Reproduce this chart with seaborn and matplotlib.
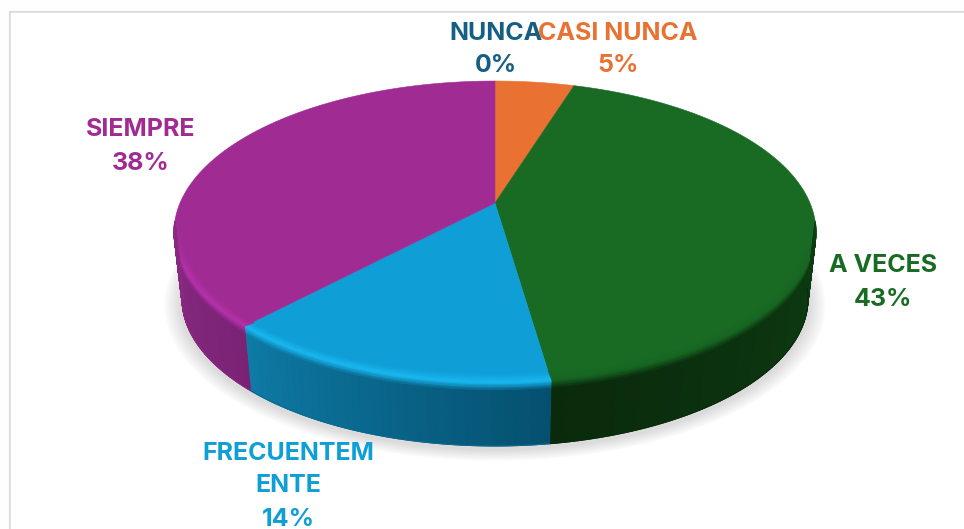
"""
3D style pie chart, frequency of answers
"""

import numpy as np
import matplotlib
matplotlib.use("Agg")
import matplotlib.pyplot as plt
from matplotlib.colors import to_rgb
import seaborn as sns

categories = ['NUNCA', 'CASI NUNCA', 'A VECES', 'FRECUENTEMENTE', 'SIEMPRE']
values = [0.0, 4.8, 42.9, 14.3, 38.0]
slice_colors = ['#156082', '#E97132', '#196B24', '#0F9ED5', '#A02B93']

# label layout: wrapped text and centre of first line in pixels
label_lines = [['NUNCA'], ['CASI NUNCA'], ['A VECES'], ['FRECUENTEM', 'ENTE'], ['SIEMPRE']]
label_x = [496, 618, 883, 288, 141]
label_y = [33, 33, 266, 453, 130]

# side colours (start of slice, end of slice) and rim highlight
side_from = ['#156082', '#E97132', '#0d3d12', '#05506f', '#7a2375']
side_to = ['#156082', '#E97132', '#0a2a0c', '#0e7ba6', '#8a2a83']
rim_color = ['#156082', '#E97132', '#176522', '#1ab8f2', '#b632ad']

sns.set_theme(style="white")
plt.rcParams['font.family'] = ['Inter', 'DejaVu Sans']

# projection of the pie disc to pixels
CX, CY = 495.0, 203.0
A, B, K = 315.0, 145.4, 0.192
SCALE_BOTTOM, DROP = 0.975, 67.5
VIS_START, VIS_END = 97.0, 263.0


def top_point(theta):
    th = np.radians(theta)
    u, v = np.sin(th), np.cos(th)
    w = 1 + K * v
    return CX + A * u / w, CY - B * v / w


def bottom_point(x, y):
    return CX + SCALE_BOTTOM * (x - CX), CY + DROP + SCALE_BOTTOM * (y - CY)


fig = plt.figure(figsize=(9.64, 5.29), dpi=100)
fig.patch.set_facecolor('#fefefe')
ax = fig.add_axes([0, 0, 1, 1])
ax.set_xlim(0, 964)
ax.set_ylim(529, 0)
ax.axis('off')

# chart frame, only top and left fall inside the crop
ax.plot([9.5, 9.5, 964], [529, 12, 12], color='#dcdcdc', lw=1.6, zorder=1)
ax.fill([10.5, 964, 964, 10.5], [13, 13, 529, 529], color='white', zorder=1)

# soft shadow under the pie
t_all = np.linspace(0, 360, 361)
sx, sy = top_point(t_all)
bx, by = bottom_point(sx, sy)
for grow in np.arange(18, 0, -2):
    f = 1 + grow / 321
    ax.fill(CX + f * (bx - CX), CY + 35 + f * (by - CY - 35) + 3, color='#8c8c8c',
            alpha=0.035, lw=0, zorder=2)

# cumulative angles clockwise from the top
ends = np.cumsum(values) / np.sum(values) * 360
starts = np.concatenate([[0], ends[:-1]])

# top faces
for i, (a0, a1) in enumerate(zip(starts, ends)):
    if a1 <= a0:
        continue
    th = np.linspace(a0, a1, 200)
    x, y = top_point(th)
    ax.fill(np.r_[CX, x], np.r_[CY, y], facecolor=slice_colors[i], edgecolor=slice_colors[i],
            lw=0.4, zorder=3)

# rim and side wall of the front part
ECX, ECY = 495.0, 232.0
offsets = np.array([-10, -6, -3, 0, 2, 5, 8, 14, 30, 1000])
for i, (a0, a1) in enumerate(zip(starts, ends)):
    lo, hi = max(a0, VIS_START), min(a1, VIS_END)
    if hi <= lo:
        continue
    th = np.linspace(lo, hi, 120)
    x, y = top_point(th)
    bot_x, bot_y = bottom_point(x, y)
    dist = np.hypot(x - ECX, y - ECY)
    ux, uy = (x - ECX) / dist, (y - ECY) / dist
    base = np.array(to_rgb(slice_colors[i]))
    rim = np.array(to_rgb(rim_color[i]))
    c0, c1 = np.array(to_rgb(side_from[i])), np.array(to_rgb(side_to[i]))
    frac = (th - lo) / (hi - lo)
    fade = np.clip(np.minimum(th - VIS_START, VIS_END - th) / 18, 0, 1)

    X, Y, C = [], [], []
    for off in offsets:
        if off <= 0:
            X.append(x + off * ux)
            Y.append(y + off * uy)
            m = (1 + off / 10) * fade
            C.append(base[None, :] * (1 - m[:, None]) + rim[None, :] * m[:, None])
        else:
            d = np.minimum(off / (bot_y - y), 1.0)
            X.append(x + (bot_x - x) * d)
            Y.append(y + (bot_y - y) * d)
            side = c0[None, :] * (1 - frac[:, None]) + c1[None, :] * frac[:, None]
            m = min(off / 8, 1)
            start = rim[None, :] * fade[:, None] + side * (1 - fade[:, None])
            C.append(start * (1 - m) + side * m)
    X, Y, C = np.array(X), np.array(Y), np.array(C)
    ax.pcolormesh(X, Y, C, shading='gouraud', zorder=4)
    ax.plot(bot_x, bot_y, color=side_to[i] if i != 3 else '#0a6a91', lw=0.8, zorder=5)

# labels
for i, lines in enumerate(label_lines):
    pct = f"{values[i] / sum(values) * 100:.0f}%"
    for j, line in enumerate(lines + [pct]):
        ax.text(label_x[i], label_y[i] + 33 * j, line, color=slice_colors[i], fontsize=18,
                fontweight='bold', ha='center', va='center', zorder=6)

plt.savefig('out.png', dpi=100, facecolor=fig.get_facecolor())
plt.close()
